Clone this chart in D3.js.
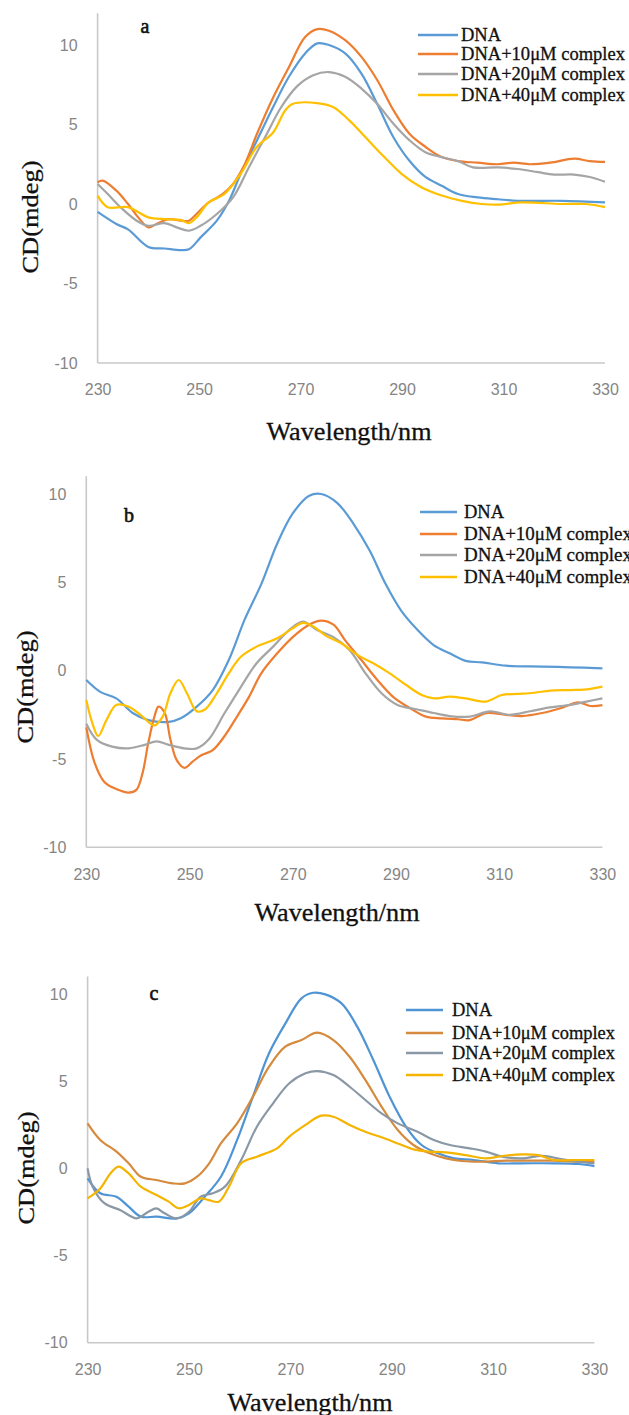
<!DOCTYPE html>
<html>
<head>
<meta charset="utf-8">
<script src="https://cdn.jsdelivr.net/npm/d3@7"></script>
<style>
  html, body { margin: 0; padding: 0; background: #fff; }
  svg { display: block; }
</style>
</head>
<body>
<svg id="chart" width="629" height="1415"></svg>
<script>
// CD spectra of CT-DNA with increasing complex concentration, three complexes (a, b, c).
// Each series: [wavelength (nm), CD (mdeg)] pairs.

const seriesNames = ["DNA", "DNA+10μM complex", "DNA+20μM complex", "DNA+40μM complex"];
const xTicks = [230, 250, 270, 290, 310, 330];
const yTicks = [-10, -5, 0, 5, 10];

// ---- panel a ----
const aDNA = [[230,-0.5],[233.7,-1.26],[236,-1.6],[240,-2.7],[243.2,-2.8],[246.4,-2.9],[248,-2.85],[250.3,-2.1],[253.5,-1.05],[255.9,0.2],[258.2,1.9],[261.4,4.0],[264.6,6.1],[267.7,8.0],[270.9,9.47],[273.3,10.1],[275.6,10.0],[278.8,9.47],[282,8.2],[285.1,6.3],[288.3,4.2],[291.5,2.7],[294.6,1.7],[297.8,1.15],[301,0.63],[304.9,0.42],[308.9,0.3],[312.8,0.2],[321.5,0.2],[330,0.1]];
const a10 = [[230,1.37],[231,1.47],[233.7,0.84],[236,0],[238,-0.84],[240,-1.47],[241.6,-1.26],[244,-0.95],[246.4,-1.05],[248,-1.05],[249.5,-0.63],[251.9,0.1],[254.7,0.63],[256.7,1.26],[259,2.5],[261.4,4.4],[264.6,6.7],[267.7,8.6],[270.9,10.5],[273.3,11.0],[275.6,10.9],[278.8,10.3],[282,9.25],[285.1,7.8],[288.3,5.9],[291.5,4.4],[294.6,3.6],[297.8,2.95],[301,2.7],[304.9,2.6],[308.9,2.5],[312,2.6],[315.2,2.5],[319.2,2.6],[323.9,2.85],[327,2.7],[330,2.65]];
const a20 = [[230,1.26],[232,0.63],[234.5,-0.2],[237.7,-1.05],[240,-1.37],[243.2,-1.2],[245.6,-1.47],[248,-1.68],[250.3,-1.37],[253.5,-0.63],[256.7,0.42],[259.8,2.3],[263,4.2],[266.2,6.1],[269.3,7.4],[272.5,8.1],[275.6,8.3],[278.8,8.0],[282,7.26],[285.1,6.3],[288.3,5.05],[291.5,4.0],[294.6,3.26],[297.8,2.95],[301,2.7],[304,2.3],[308.9,2.3],[312.8,2.2],[316.8,2.0],[320,1.85],[323.9,1.85],[327,1.7],[330,1.4]];
const a40 = [[230,0.53],[232,-0.2],[236,-0.2],[240,-0.84],[243.2,-0.95],[246.4,-1.0],[248,-1.2],[249.5,-0.84],[251.9,0.1],[255,0.63],[258.2,1.9],[261.4,3.6],[264.6,4.5],[267,5.9],[268.5,6.3],[273.3,6.35],[276.4,6.1],[279.6,5.26],[282.8,4.2],[285.9,3.15],[289.9,1.9],[293.8,1.05],[297.8,0.53],[301.8,0.2],[305.7,0],[308.9,-0.04],[313.6,0.1],[321.5,0],[326.3,0],[330,-0.2]];

// ---- panel b ----
const bDNA = [[230,-0.53],[232.7,-1.2],[235.8,-1.57],[239,-2.4],[242,-2.8],[246,-2.9],[248.3,-2.7],[251.4,-2.04],[254.5,-1.1],[257.6,0.6],[260.7,2.9],[263.9,4.9],[267,7.2],[270,8.9],[273.2,9.9],[275.5,10.0],[278.6,9.5],[281.8,8.3],[284.9,6.8],[288,4.9],[291,3.4],[294.2,2.3],[297.3,1.45],[300.4,0.98],[303.5,0.55],[306.7,0.47],[311.3,0.28],[318.3,0.23],[323.8,0.19],[330,0.13]];
const b10 = [[230,-3.2],[231.6,-5.2],[233.5,-6.3],[235.8,-6.7],[238.2,-6.9],[239.7,-6.75],[240.9,-5.8],[242,-4.1],[243.2,-2.6],[244,-2.04],[245.2,-2.4],[246.3,-3.9],[247.5,-5.05],[249,-5.5],[250.6,-5.15],[252.2,-4.8],[254.5,-4.5],[256.8,-3.7],[259.2,-2.6],[261.5,-1.5],[263.9,-0.15],[267,0.98],[270,1.9],[273.2,2.6],[275.5,2.83],[277.9,2.6],[280.2,1.7],[283.3,0.6],[286.4,-0.53],[289.5,-1.5],[292.6,-2.1],[295.8,-2.6],[298.9,-2.7],[302,-2.75],[304.3,-2.8],[307.4,-2.4],[311.3,-2.5],[314.4,-2.57],[318.3,-2.4],[322.2,-2.1],[325.3,-1.8],[327.7,-2.0],[330,-1.95]];
const b20 = [[230,-3.0],[232,-3.9],[235,-4.3],[238.2,-4.4],[241.3,-4.2],[243.6,-4.0],[246,-4.2],[249,-4.4],[251.4,-4.4],[253.7,-3.9],[256.8,-2.4],[260,-0.9],[263,0.42],[266.2,1.36],[269.3,2.3],[272,2.77],[274.7,2.3],[277.9,1.9],[281,1.17],[284.1,-0.15],[287.2,-1.28],[290.3,-1.94],[294.2,-2.2],[297.3,-2.4],[300.4,-2.57],[304.3,-2.6],[308.2,-2.3],[312,-2.5],[316,-2.3],[319.9,-2.08],[323.8,-1.94],[326.9,-1.75],[330,-1.57]];
const b40 = [[230,-1.66],[231.2,-3.0],[232.3,-3.7],[233.9,-2.8],[235.8,-1.94],[238.2,-2.04],[240.5,-2.5],[243.2,-3.1],[244.8,-2.6],[246.3,-1.28],[247.9,-0.53],[249.5,-1.28],[251.4,-2.3],[253,-2.2],[255.3,-1.28],[257.6,-0.15],[260,0.8],[263,1.36],[267,1.83],[270,2.4],[272,2.7],[274,2.5],[276.3,2.0],[279.4,1.55],[282.5,0.89],[285.6,0.42],[288.8,-0.15],[291.9,-0.8],[295,-1.38],[297.3,-1.57],[300.4,-1.47],[303.5,-1.57],[307.4,-1.75],[310.5,-1.38],[313.6,-1.32],[316.8,-1.25],[319.9,-1.13],[323.8,-1.1],[326.9,-1.06],[330,-0.9]];

// ---- panel c ----
const cDNA = [[230,-0.57],[232.5,-1.43],[235.7,-1.63],[238.1,-2.2],[240.5,-2.77],[243.6,-2.77],[247.6,-2.87],[250,-2.58],[253.1,-1.63],[256.3,-0.48],[259.5,1.63],[262.6,4.1],[265.8,6.6],[269,8.3],[272.2,9.75],[274.5,10.07],[276.9,9.98],[280.1,9.46],[283.2,8.13],[286.4,6.2],[289.6,4.1],[292.8,2.4],[295.9,1.34],[299.1,0.86],[302.3,0.57],[306.2,0.48],[311,0.29],[315.7,0.29],[322,0.29],[326.8,0.25],[330,0.13]];
const c10 = [[230,2.58],[232.5,1.63],[235.7,0.96],[238.1,0.29],[240.5,-0.48],[243.6,-0.67],[246.8,-0.86],[249.2,-0.86],[251.6,-0.48],[254,0.29],[256.3,1.43],[259.5,2.58],[262.6,4.1],[265.8,5.83],[269,6.98],[272.2,7.36],[275.3,7.78],[278.5,7.36],[281.7,6.4],[284.8,5.07],[288,3.54],[291.2,2.2],[294.3,1.34],[297.5,0.86],[300.7,0.57],[303.8,0.42],[307.8,0.38],[312.6,0.44],[317.3,0.44],[322,0.44],[326.8,0.38],[330,0.38]];
const c20 = [[230,0],[231,-1.05],[233.3,-2.0],[236.5,-2.4],[239.7,-2.87],[242,-2.49],[243.6,-2.3],[245.2,-2.58],[247.6,-2.87],[250,-2.49],[252.3,-1.63],[254.7,-1.43],[257.1,-1.05],[260.3,0.48],[263.4,2.39],[266.6,3.73],[269.8,4.88],[273,5.45],[275.3,5.58],[278.5,5.35],[281.7,4.68],[284.8,3.92],[288,3.15],[291.2,2.58],[295.1,2.1],[298.3,1.63],[301.5,1.34],[305.4,1.15],[308.6,0.96],[311.8,0.67],[315.7,0.57],[319.7,0.71],[323.7,0.52],[326.8,0.38],[330,0.29]];
const c40 = [[230,-1.72],[232.5,-1.15],[234.5,-0.29],[236.1,0.1],[238.1,-0.29],[240.5,-1.05],[243.6,-1.53],[246,-1.91],[248,-2.29],[250,-2.1],[252.3,-1.72],[253.9,-1.82],[255.9,-1.91],[257.9,-1.05],[260.3,0.29],[263.4,0.67],[267.4,1.15],[269.8,1.82],[273,2.49],[276.1,3.02],[278.5,2.96],[281.7,2.49],[284.8,2.1],[288,1.78],[291.2,1.43],[294.3,1.09],[297.5,0.96],[300.7,0.92],[304.6,0.76],[308.6,0.57],[311.8,0.71],[315.7,0.8],[318.9,0.76],[322,0.48],[326.8,0.48],[330,0.48]];

const coloursAB = ["#5b9bd5", "#ed7d31", "#a5a5a5", "#ffc000"];
const coloursC  = ["#4f94d4", "#d58a3e", "#8a98a6", "#f4b400"];

// layout of the three stacked panels
const panels = [
  { letter: "a", series: [aDNA, a10, a20, a40], colours: coloursAB, yMax: 12,
    x0: 97.6, x1: 605, y10: 45, yM10: 363,
    letterPos: [145, 33], legend: { lineX: 418, lineW: 40, textX: 461, rowY: [35, 54, 74, 95], textW: 164 },
    xTitle: [349, 440], yTitle: [30, 217] },
  { letter: "b", series: [bDNA, b10, b20, b40], colours: coloursAB, yMax: 11,
    x0: 86.3, x1: 602.4, y10: 494, yM10: 847.3,
    letterPos: [129, 522], legend: { lineX: 420, lineW: 37, textX: 464, rowY: [512, 534, 555, 577], textW: 168 },
    xTitle: [337, 921], yTitle: [25, 687] },
  { letter: "c", series: [cDNA, c10, c20, c40], colours: coloursC, yMax: 11,
    x0: 87.6, x1: 594.4, y10: 994, yM10: 1342.7,
    letterPos: [154, 1000], legend: { lineX: 406, lineW: 37, textX: 452, rowY: [1010, 1033, 1053, 1075], textW: 163 },
    xTitle: [310, 1411], yTitle: [26, 1168] }
];

const svg = d3.select("#chart");
const serif = "'Liberation Serif', 'Times New Roman', serif";
const sans = "'Liberation Sans', Arial, sans-serif";

panels.forEach(p => {
  const x = d3.scaleLinear().domain([230, 330]).range([p.x0, p.x1]);
  const y = d3.scaleLinear().domain([-10, 10]).range([p.yM10, p.y10]);
  const g = svg.append("g");

  // axes: plain light-grey lines, no tick marks; labels use a plain hyphen for negatives
  const fmt = d => String(d);
  const yAxis = d3.axisLeft(y).tickValues(yTicks).tickSize(0).tickPadding(20).tickFormat(fmt);
  const xAxis = d3.axisBottom(x).tickValues(xTicks).tickSize(0).tickPadding(21).tickFormat(fmt);

  g.append("g").attr("transform", `translate(${p.x0},0)`).call(yAxis)
    .call(s => s.select(".domain").remove());
  g.append("g").attr("transform", `translate(0,${p.yM10})`).call(xAxis)
    .call(s => s.select(".domain").remove());

  g.selectAll(".tick text")
    .attr("font-family", sans).attr("font-size", 16).attr("fill", "#858585");

  g.append("line").attr("x1", p.x0).attr("x2", p.x0)
    .attr("y1", y(p.yMax)).attr("y2", y(-10))
    .attr("stroke", "#c8c8c8").attr("stroke-width", 1.6);
  g.append("line").attr("x1", p.x0).attr("x2", p.x1)
    .attr("y1", y(-10)).attr("y2", y(-10))
    .attr("stroke", "#c8c8c8").attr("stroke-width", 1.6);

  // spectra
  const line = d3.line().x(d => x(d[0])).y(d => y(d[1])).curve(d3.curveCatmullRom.alpha(0.5));
  p.series.forEach((s, i) => {
    g.append("path").datum(s).attr("d", line)
      .attr("fill", "none").attr("stroke", p.colours[i])
      .attr("stroke-width", 2.2).attr("stroke-linejoin", "round");
  });

  // legend
  const L = p.legend;
  seriesNames.forEach((name, i) => {
    g.append("line").attr("x1", L.lineX).attr("x2", L.lineX + L.lineW)
      .attr("y1", L.rowY[i]).attr("y2", L.rowY[i])
      .attr("stroke", p.colours[i]).attr("stroke-width", 2.6);
    const t = g.append("text").attr("x", L.textX).attr("y", L.rowY[i])
      .attr("dy", "0.35em").attr("font-family", serif).attr("font-size", 18.5)
      .attr("fill", "#111").attr("stroke", "#111").attr("stroke-width", 0.3)
      .text(name);
    if (i > 0) t.attr("textLength", L.textW).attr("lengthAdjust", "spacingAndGlyphs");
  });

  // panel letter
  g.append("text").attr("x", p.letterPos[0]).attr("y", p.letterPos[1])
    .attr("text-anchor", "middle").attr("font-family", serif).attr("font-size", 20)
    .attr("fill", "#111").attr("stroke", "#111").attr("stroke-width", 0.6).text(p.letter);

  // axis titles
  g.append("text").attr("x", p.xTitle[0]).attr("y", p.xTitle[1])
    .attr("text-anchor", "middle").attr("font-family", serif).attr("font-size", 25)
    .attr("fill", "#111").attr("stroke", "#111").attr("stroke-width", 0.3)
    .attr("textLength", 165).attr("lengthAdjust", "spacingAndGlyphs")
    .text("Wavelength/nm");
  g.append("text")
    .attr("transform", `translate(${p.yTitle[0] + 8},${p.yTitle[1]}) rotate(-90)`)
    .attr("text-anchor", "middle").attr("font-family", serif).attr("font-size", 24)
    .attr("fill", "#111").attr("stroke", "#111").attr("stroke-width", 0.3)
    .attr("textLength", 113).attr("lengthAdjust", "spacingAndGlyphs")
    .text("CD(mdeg)");
});
</script>
</body>
</html>
